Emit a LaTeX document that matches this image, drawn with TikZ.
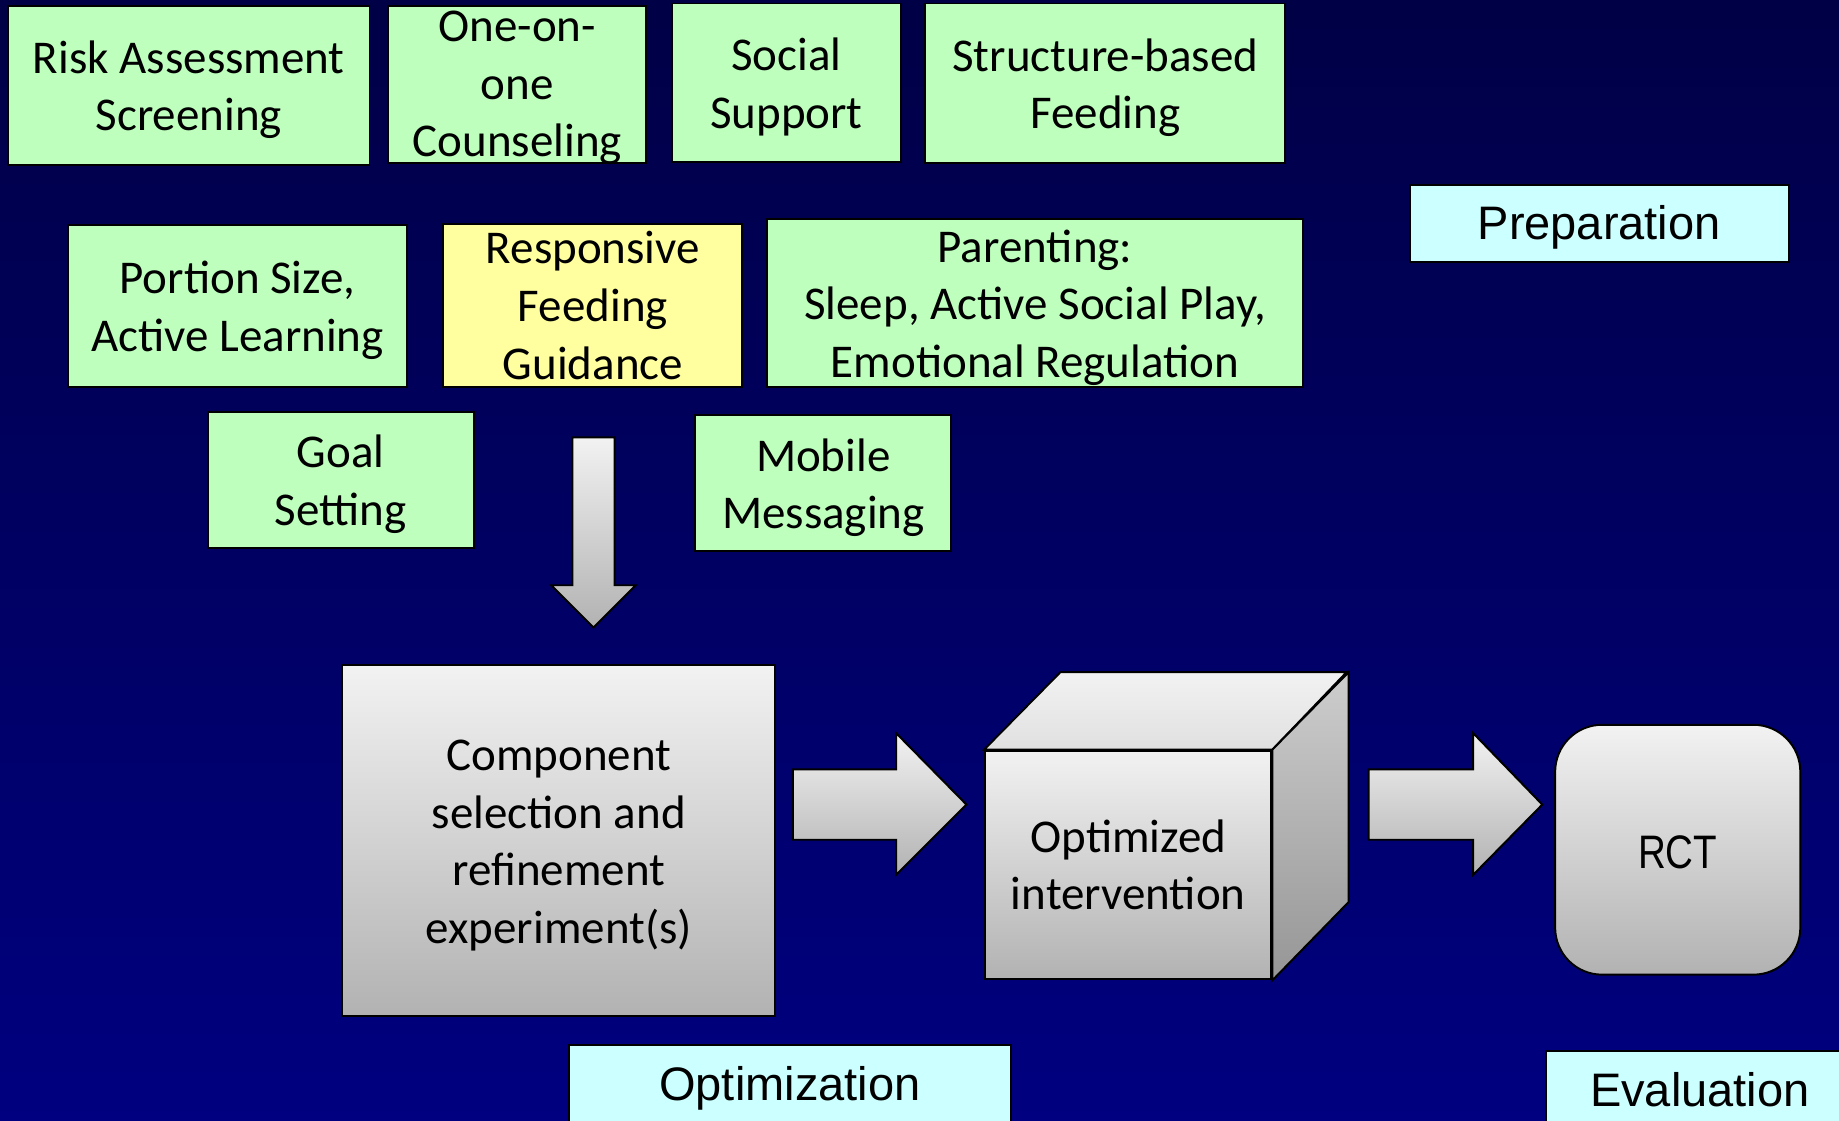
\documentclass[tikz,border=0pt]{standalone}
\usepackage{fontspec}
\setmainfont{Carlito}
\newfontfamily\arialf{Liberation Sans}
\newfontfamily\narrowf[FakeStretch=0.82]{Liberation Sans}
\definecolor{bgtop}{RGB}{0,0,70}
\definecolor{bgbot}{RGB}{0,0,128}
\definecolor{boxgreen}{RGB}{190,255,190}
\definecolor{boxyellow}{RGB}{255,255,160}
\definecolor{boxcyan}{RGB}{204,255,255}
\definecolor{graytop}{RGB}{242,242,242}
\definecolor{graybot}{RGB}{178,178,178}
\definecolor{sidetop}{RGB}{205,205,205}
\definecolor{sidebot}{RGB}{150,150,150}
\tikzset{
  box/.style={draw=black, line width=1.2pt, inner sep=0pt, align=center,
    font=\fontsize{28.5}{34.9}\selectfont},
  lineone/.style={text height=25pt},
  linetwo/.style={text height=59.9pt},
  linethree/.style={text height=94.8pt},
  linefour/.style={text height=129.7pt},
  gbox/.style={box, fill=boxgreen},
  ybox/.style={box, fill=boxyellow},
  phase/.style={box, fill=boxcyan, font=\arialf\fontsize{28.5}{34.9}\selectfont},
  grayshape/.style={draw=black, line width=1.2pt, top color=graytop, bottom color=graybot},
  graybox/.style={box, top color=graytop, bottom color=graybot},
}
\begin{document}
\begin{tikzpicture}[x=0.025cm, y=-0.025cm]
\useasboundingbox (0,0) rectangle (1568,955);
\shade[top color=bgtop, bottom color=bgbot] (0,0) rectangle (1568,955);

% top row
\node[gbox, linetwo, minimum width=7.7cm, minimum height=3.4cm] (risk) at (161,73) {Risk Assessment\\Screening};
\node[gbox, text height=87.7pt, text depth=0pt, minimum width=5.5cm, minimum height=3.35cm] (one) at (441,72) {One-on-\\one\\Counseling};
\node[gbox, linetwo, minimum width=4.875cm, minimum height=3.375cm] (social) at (670.5,70.5) {Social\\Support};
\node[gbox, linetwo, minimum width=7.675cm, minimum height=3.4cm] (struct) at (942.5,71) {Structure-based\\Feeding};
\node[phase, text height=26pt, minimum width=8.075cm, minimum height=1.625cm] (prep) at (1363.5,190.5) {Preparation};

% second row
\node[gbox, linetwo, minimum width=7.225cm, minimum height=3.45cm] (portion) at (202.5,261) {Portion Size,\\Active Learning};
\node[ybox, minimum width=6.375cm, minimum height=3.475cm] (resp) at (505.5,260.5) {Responsive\\Feeding\\Guidance};
\node[gbox, linethree, minimum width=11.425cm, minimum height=3.575cm] (parent) at (882.5,258.5) {Parenting:\\Sleep, Active Social Play,\\Emotional Regulation};

% third row
\node[gbox, linetwo, minimum width=5.675cm, minimum height=2.9cm] (goal) at (290.5,409) {Goal\\Setting};
\node[gbox, linetwo, minimum width=5.45cm, minimum height=2.9cm] (mobile) at (702,412) {Mobile\\Messaging};

% down block arrow
\path[grayshape] (488,373) -- (524,373) -- (524,499) -- (542,499) -- (506,535) -- (470,499) -- (488,499) -- cycle;

% component box
\node[graybox, linefour, minimum width=9.225cm, minimum height=7.475cm] (comp) at (476.5,716.5) {Component\\selection and\\refinement\\experiment(s)};

% right block arrow 1
\path[grayshape] (676,656) -- (764,656) -- (764,625) -- (824,686) -- (764,746) -- (764,716) -- (676,716) -- cycle;

% cube
\node[graybox, minimum width=6.1cm, minimum height=4.875cm] (cube) at (962,737.5) {Optimized\\intervention};
\path[draw=black, line width=1.2pt, top color=graytop, bottom color=white!88!black]
  (cube.north west) -- ++(65,-66) -- ++(244,0) -- (cube.north east) -- cycle;
\path[draw=black, line width=1.2pt, top color=sidetop, bottom color=sidebot]
  (cube.north east) -- ++(65,-66) -- ++(0,196) -- (cube.south east) -- cycle;

% right block arrow 2
\path[grayshape] (1167,656) -- (1256,656) -- (1256,625) -- (1315,686) -- (1256,746) -- (1256,716) -- (1167,716) -- cycle;

% RCT
\node[graybox, text height=23pt, rounded corners=1cm, minimum width=5.225cm, minimum height=5.325cm,
  font=\narrowf\fontsize{28.5}{34.9}\selectfont] (rct) at (1430.5,724.5) {RCT};

% phase labels
\node[phase, lineone, minimum width=9.425cm, minimum height=1.7cm] (optim) at (673.5,925) {Optimization};
\node[phase, minimum width=6.575cm, minimum height=1.65cm, anchor=north west] (evalu) at (1317,895) {Evaluation};
\end{tikzpicture}
\end{document}
